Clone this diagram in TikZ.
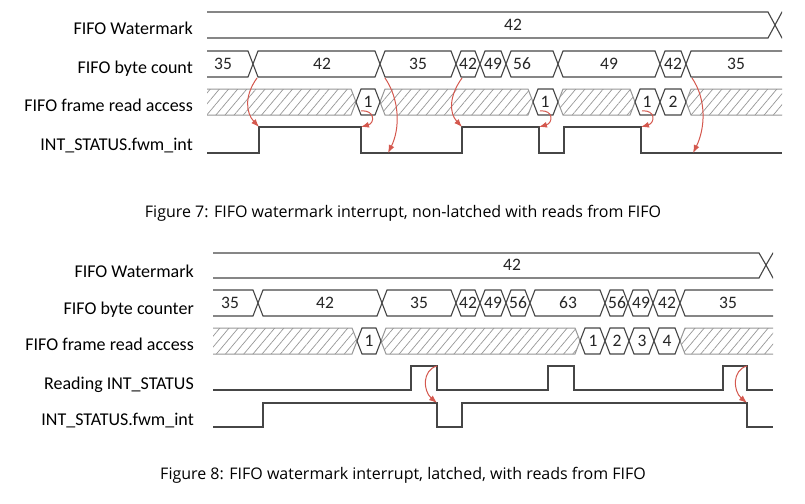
\documentclass[tikz,border=0pt]{standalone}
\usepackage{fontspec}
\setmainfont{Carlito}
\newfontfamily\capfont{Open Sans}
\usetikzlibrary{arrows.meta,patterns.meta}
\definecolor{busColor}{RGB}{70,70,70}
\definecolor{hatchColor}{RGB}{150,150,150}
\definecolor{causeColor}{RGB}{212,88,78}

\begin{document}
\begin{tikzpicture}[
        x=1pt, y=-1pt,
        bus/.style={
                draw=busColor,
                line width=1.1pt,
                fill=white
            },
        hatched/.style={
                draw=hatchColor,
                line width=1pt,
                pattern={Lines[angle=50,distance=7pt,line width=0.7pt]},
                pattern color=hatchColor
            },
        wave/.style={draw=busColor, line width=1.2pt},
        value/.style={font=\fontsize{17.5}{20}\selectfont, text=black!85, inner sep=0pt},
        signal/.style={font=\fontsize{18}{20}\selectfont, anchor=base east, inner sep=0pt},
        caption/.style={font=\capfont\fontsize{16}{19}\selectfont},
        cause/.style={draw=causeColor, line width=1pt, -{Latex[length=8pt,width=6pt]}}
    ]
    \useasboundingbox (0,0) rectangle (805,503);

    % ---- Slant of the bus transitions ----
    \def\sl{5}

    % =========================================================
    % ---- Figure 7: non-latched ----
    % =========================================================
    \node[signal] (wmA)  at (193,35)  {FIFO Watermark};
    \node[signal] (cntA) at (193,74)  {FIFO byte count};
    \node[signal] (rdA)  at (193,111) {FIFO frame read access};
    \node[signal] (intA) at (193,150) {INT\_STATUS.fwm\_int};

    \begin{scope}
        \clip (207,0) rectangle (782,120);

        % watermark
        \draw[bus] (187,25) -- (187,12) -- (768,12) -- (775,25) -- (768,38) -- (187,38);
        \draw[bus] (775,25) -- (782,12) -- (802,12) -- (802,38) -- (782,38) -- cycle;
        \node[value] (wmvA) at (513,25) {42};

        % byte count
        \foreach \a/\b/\v/\p [count=\i] in {187/253/35/223, 253/380/42/322, 380/456/35/418,
                456/480/42/468, 480/506/49/493, 506/558/56/522, 558/660/49/609,
                660/686/42/673, 686/802/35/736}
            {
                \draw[bus] (\a,64) -- (\a+\sl,51) -- (\b-\sl,51) -- (\b,64) -- (\b-\sl,77) -- (\a+\sl,77) -- cycle;
                \node[value] (cntA\i) at (\p,64) {\v};
            }

        % frame read access
        \foreach \a/\b in {187/356, 380/533, 558/635, 686/802}
            \draw[hatched] (\a,102) -- (\a+\sl,89) -- (\b-\sl,89) -- (\b,102) -- (\b-\sl,115) -- (\a+\sl,115) -- cycle;
        \foreach \a/\b/\v/\p [count=\i] in {356/380/1/368, 533/558/1/545, 635/660/1/647, 660/686/2/673}
            {
                \draw[bus] (\a,102) -- (\a+\sl,89) -- (\b-\sl,89) -- (\b,102) -- (\b-\sl,115) -- (\a+\sl,115) -- cycle;
                \node[value] (rdA\i) at (\p,102) {\v};
            }
    \end{scope}

    % fwm_int
    \draw[wave] (207,153) -- (259,153) -- (259,127) coordinate (riseA1) -- (361,127) coordinate (fallA1)
    -- (361,153) -- (388,153) coordinate (lowA1) -- (462,153) -- (462,127) coordinate (riseA2)
    -- (539,127) coordinate (fallA2) -- (539,153) -- (564,153) -- (564,127) -- (641,127) coordinate (fallA3)
    -- (641,153) -- (693,153) coordinate (lowA2) -- (782,153);

    % ---- cause arrows ----
    \coordinate (srcA1) at (257,78);
    \coordinate (srcA2) at (385,78);
    \coordinate (srcA3) at (462,78);
    \coordinate (srcA4) at (692,78);
    \draw[cause] (srcA1) .. controls +(-13,18) and +(-13,-14) .. (riseA1);
    \draw[cause] (srcA3) .. controls +(-13,18) and +(-13,-14) .. (riseA2);
    \draw[cause] (srcA2) .. controls +(15,22) and +(12,-24) .. (lowA1);
    \draw[cause] (srcA4) .. controls +(15,22) and +(12,-24) .. (lowA2);
    \draw[cause] (rdA1.south) ++(-7,3) .. controls +(14,-1) and +(14,-4) .. (fallA1);
    \draw[cause] (rdA2.south) ++(-5,3) .. controls +(14,-1) and +(14,-4) .. (fallA2);
    \draw[cause] (rdA3.south) ++(-5,3) .. controls +(14,-1) and +(14,-4) .. (fallA3);

    \node[caption] (capA) at (403,213) {Figure 7: FIFO watermark interrupt, non-latched with reads from FIFO};

    % =========================================================
    % ---- Figure 8: latched ----
    % =========================================================
    \node[signal] (wmB)  at (194,277) {FIFO Watermark};
    \node[signal] (cntB) at (194,314) {FIFO byte counter};
    \node[signal] (rdB)  at (194,350) {FIFO frame read access};
    \node[signal] (reqB) at (194,389) {Reading INT\_STATUS};
    \node[signal] (intB) at (194,425) {INT\_STATUS.fwm\_int};

    \begin{scope}
        \clip (213,240) rectangle (773,360);

        % watermark
        \draw[bus] (193,265) -- (193,253) -- (759,253) -- (766,265) -- (759,278) -- (193,278);
        \draw[bus] (766,265) -- (773,253) -- (793,253) -- (793,278) -- (773,278) -- cycle;
        \node[value] (wmvB) at (512,265) {42};

        % byte counter
        \foreach \a/\b/\v/\p [count=\i] in {193/258/35/230, 258/382/42/325, 382/456/35/419,
                456/480/42/468, 480/506/49/493, 506/530/56/518, 530/605/63/568,
                605/628/56/617, 628/653/49/641, 653/680/42/667, 680/793/35/728}
            {
                \draw[bus] (\a,303) -- (\a+\sl,290) -- (\b-\sl,290) -- (\b,303) -- (\b-\sl,316) -- (\a+\sl,316) -- cycle;
                \node[value] (cntB\i) at (\p,303) {\v};
            }

        % frame read access
        \foreach \a/\b in {193/357, 381/580, 680/793}
            \draw[hatched] (\a,341) -- (\a+\sl,328) -- (\b-\sl,328) -- (\b,341) -- (\b-\sl,354) -- (\a+\sl,354) -- cycle;
        \foreach \a/\b/\v/\p [count=\i] in {357/381/1/369, 580/605/1/593, 605/629/2/617,
                629/654/3/642, 654/680/4/667}
            {
                \draw[bus] (\a,341) -- (\a+\sl,328) -- (\b-\sl,328) -- (\b,341) -- (\b-\sl,354) -- (\a+\sl,354) -- cycle;
                \node[value] (rdB\i) at (\p,341) {\v};
            }
    \end{scope}

    % reading INT_STATUS
    \draw[wave] (213,390) -- (411,390) -- (411,366) -- (437,366) coordinate (readB1) -- (437,390)
    -- (548,390) -- (548,366) -- (574,366) -- (574,390) -- (723,390) -- (723,366)
    -- (747,366) coordinate (readB2) -- (747,390) -- (773,390);

    % fwm_int
    \draw[wave] (213,427) -- (263,427) -- (263,403) -- (437,403) coordinate (clearB1) -- (437,427)
    -- (462,427) -- (462,403) -- (747,403) coordinate (clearB2) -- (747,427) -- (773,427);

    % ---- cause arrows ----
    \draw[cause] (readB1) .. controls +(-15,4) and +(-14,-12) .. (clearB1);
    \draw[cause] (readB2) .. controls +(-15,4) and +(-14,-12) .. (clearB2);

    \node[caption] (capB) at (403,475) {Figure 8: FIFO watermark interrupt, latched, with reads from FIFO};
\end{tikzpicture}
\end{document}
